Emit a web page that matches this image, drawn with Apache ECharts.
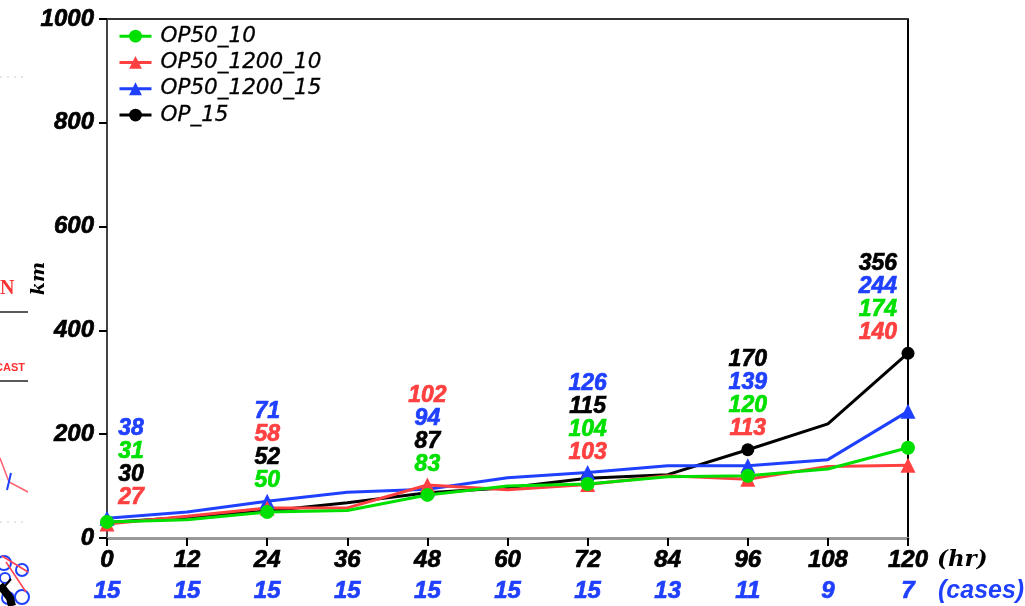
<!DOCTYPE html>
<html><head><meta charset="utf-8">
<style>html,body{margin:0;padding:0;background:#fff}#c{width:1025px;height:606px}</style>
<script src="https://cdn.jsdelivr.net/npm/echarts@6/dist/echarts.min.js"></script>
</head><body><div id="c"></div>
<script>
const hours = [0,12,24,36,48,60,72,84,96,108,120];
const cases = [15,15,15,15,15,15,15,13,11,9,7];
const yTicks = [0,200,400,600,800,1000];
const op50_10 = [31,35,50,53,83,100,104,118,120,133,174];
const op50_1200_10 = [27,42,58,58,102,93,103,120,113,138,140];
const op50_1200_15 = [38,50,71,88,94,116,126,139,139,151,244];
const op_15 = [30,40,52,68,87,97,115,122,170,220,356];
const GREEN='#00e000', RED='#ff4040', BLUE='#2040ff', BLACK='#000';
const seriesDefs = [
  {name:'OP_15', data:op_15, color:BLACK, symbol:'circle', size:13},
  {name:'OP50_1200_15', data:op50_1200_15, color:BLUE, symbol:'triangle', size:15},
  {name:'OP50_1200_10', data:op50_1200_10, color:RED, symbol:'triangle', size:15},
  {name:'OP50_10', data:op50_10, color:GREEN, symbol:'circle', size:14}
];
const stackOrder = {
  0:['OP50_1200_15','OP50_10','OP_15','OP50_1200_10'],
  24:['OP50_1200_15','OP50_1200_10','OP_15','OP50_10'],
  48:['OP50_1200_10','OP50_1200_15','OP_15','OP50_10'],
  72:['OP50_1200_15','OP_15','OP50_10','OP50_1200_10'],
  96:['OP_15','OP50_1200_15','OP50_10','OP50_1200_10'],
  120:['OP_15','OP50_1200_15','OP50_10','OP50_1200_10']
};
const stackBase = {0:77,24:110,48:141,72:164,96:210,120:395};
const stackShift = {0:3.6,24:0,48:0,72:0,96:0,120:-4.5};
const rowStep = 44.3;
const SANS='"Liberation Sans"';
const labelSeries = [];
for (const h of Object.keys(stackOrder)) {
  const order = stackOrder[h], idx = hours.indexOf(+h);
  order.forEach((n,i)=>{
    const d = seriesDefs.find(s=>s.name===n);
    labelSeries.push({type:'scatter',silent:true,symbolSize:1,z:6,legendHoverLink:false,
      itemStyle:{opacity:0},
      data:[[+h + stackShift[h], stackBase[h]+(order.length-1-i)*rowStep]],
      label:{show:true,position:'inside',formatter:String(d.data[idx]),color:d.color,opacity:1,
        textBorderColor:d.color,textBorderWidth:0.7,
        fontFamily:SANS,fontWeight:'bold',fontStyle:'italic',fontSize:23}});
  });
}
const lineSeries = seriesDefs.map(s=>({
  type:'line',name:s.name,color:s.color,symbol:s.symbol,symbolSize:s.size,z:3,
  lineStyle:{width:3,color:s.color},itemStyle:{color:s.color},
  showAllSymbol:true,
  data:s.data.map((v,i)=>hours[i]%24===0?[hours[i],v]:{value:[hours[i],v],symbol:'none'})
}));
const chart = echarts.init(document.getElementById('c'));
const casesByHour = Object.fromEntries(hours.map((h,i)=>[h,cases[i]]));
const tick = {fontFamily:SANS,fontWeight:'bold',fontStyle:'italic',fontSize:24,textBorderWidth:0.7};
chart.setOption({
  animation:false,backgroundColor:'#fff',
  grid:{left:107,top:19,right:117,bottom:68,outerBoundsMode:'none',show:false},
  legend:{left:113,top:20,orient:'vertical',itemWidth:32,itemHeight:16,itemGap:4,
    data:['OP50_10','OP50_1200_10','OP50_1200_15','OP_15'],
    lineStyle:{width:3},
    textStyle:{fontFamily:'DejaVu Sans',fontStyle:'italic',fontSize:21.5,color:'#000',padding:[0,0,0,4],
      textBorderColor:'#000',textBorderWidth:0.3}},
  xAxis:[{type:'value',min:0,max:120,interval:12,
    axisLine:{show:true,lineStyle:{color:'#999',width:3}},
    axisTick:{show:true,length:8,lineStyle:{color:'#000',width:2}},
    splitLine:{show:false},
    axisLabel:{margin:10,color:'#000',...tick,
      hideOverlap:false,showMinLabel:true,showMaxLabel:true,
      formatter:v=>'{h|'+v+'}\n{c|'+casesByHour[v]+'}',
      rich:{h:{color:'#000',...tick,textBorderColor:'#000',height:24,lineHeight:24},
            c:{color:BLUE,...tick,textBorderColor:BLUE,height:38,lineHeight:38}}}}],
  yAxis:[{type:'value',min:0,max:1000,interval:200,name:'km',nameLocation:'middle',nameGap:58,nameRotate:90,nameMoveOverlap:false,
    nameTextStyle:{color:'#000',fontFamily:'DejaVu Serif',fontWeight:'bold',fontStyle:'italic',fontSize:19},
    axisLine:{show:true,lineStyle:{color:'#444',width:2}},
    axisTick:{show:true,length:8,lineStyle:{color:'#000',width:2}},
    splitLine:{show:false},
    axisLabel:{margin:13,color:'#000',...tick,textBorderColor:'#000',
      formatter:v=>yTicks.includes(v)?String(v):''}},
   {type:'value',min:0,max:1000,interval:200,position:'right',
    axisLine:{show:true,lineStyle:{color:'#000',width:2}},axisTick:{show:false},axisLabel:{show:false},splitLine:{show:false}}],
  series:[...lineSeries,...labelSeries],
  graphic:[
    {type:'line',shape:{x1:107,y1:19,x2:908,y2:19},style:{stroke:'#333',lineWidth:2},z:1},
    {type:'text',x:937,y:560,style:{text:'(hr)',fill:'#000',verticalAlign:'middle',font:'bold italic 23px "DejaVu Serif"'}},
    {type:'text',x:938,y:591,style:{text:'(cases)',fill:BLUE,verticalAlign:'middle',font:'bold italic 25px "Liberation Sans"'}},
    {type:'text',x:0,y:279,style:{text:'N',fill:'#ff3030',font:'bold 20px "Liberation Serif"'}},
    {type:'line',shape:{x1:0,y1:312,x2:28,y2:312},style:{stroke:'#222',lineWidth:1.5}},
    {type:'text',x:-5,y:362,style:{text:'CAST',fill:'#ff3030',font:'bold 11px "Liberation Sans"'}},
    {type:'line',shape:{x1:0,y1:381,x2:28,y2:381},style:{stroke:'#222',lineWidth:1.5}},
    {type:'line',shape:{x1:0,y1:77,x2:24,y2:77},style:{stroke:'#ccc',lineWidth:1,lineDash:[2,5]}},
    {type:'line',shape:{x1:0,y1:522,x2:24,y2:522},style:{stroke:'#ccc',lineWidth:1,lineDash:[2,5]}},
    {type:'polyline',shape:{points:[[0,458],[9,482],[28,492]]},style:{stroke:'#ff6070',fill:null,lineWidth:1.5}},
    {type:'line',shape:{x1:11,y1:473,x2:7,y2:490},style:{stroke:BLUE,lineWidth:2}},
    {type:'circle',shape:{cx:4,cy:563,r:7},style:{stroke:BLUE,fill:null,lineWidth:2}},
    {type:'circle',shape:{cx:22,cy:570,r:6},style:{stroke:BLUE,fill:null,lineWidth:2}},
    {type:'circle',shape:{cx:5,cy:578,r:5},style:{stroke:BLUE,fill:null,lineWidth:2}},
    {type:'circle',shape:{cx:22,cy:597,r:7},style:{stroke:BLUE,fill:null,lineWidth:2}},
    {type:'circle',shape:{cx:8,cy:598,r:6},style:{stroke:BLUE,fill:null,lineWidth:2}},
    {type:'line',shape:{x1:2,y1:556,x2:28,y2:572},style:{stroke:'#ff4050',lineWidth:1.5}},
    {type:'line',shape:{x1:6,y1:562,x2:26,y2:592},style:{stroke:'#ff4050',lineWidth:1.5}},
    {type:'polyline',shape:{points:[[0,585],[10,598],[12,606]]},style:{stroke:'#000',fill:null,lineWidth:8}},
    {type:'line',shape:{x1:5,y1:586,x2:11,y2:579},style:{stroke:'#000',lineWidth:2}}
  ]
});
</script></body></html>
